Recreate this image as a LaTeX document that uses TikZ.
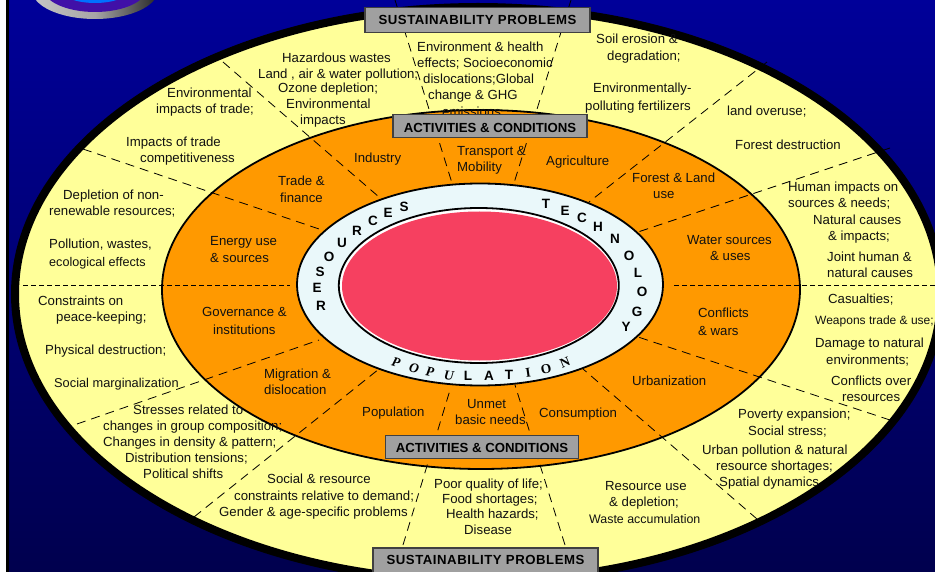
\documentclass[tikz,border=0pt]{standalone}
\usepackage{fontspec}
\setmainfont{Liberation Sans}
\newfontfamily\serifletters{Liberation Serif}
\definecolor{bgtop}{HTML}{000099}
\definecolor{bgmid}{HTML}{000090}
\definecolor{bgbot}{HTML}{00004E}
\definecolor{paleyellow}{HTML}{FFFF99}
\definecolor{ringorange}{HTML}{FF9900}
\definecolor{ringpale}{HTML}{EAF8FA}
\definecolor{corered}{HTML}{F64060}
\definecolor{labelgray}{HTML}{A0A0A0}
\definecolor{labeledge}{HTML}{404040}
\definecolor{txtblack}{HTML}{111111}
\definecolor{emblempurple}{HTML}{4010A8}
\definecolor{emblemblue}{HTML}{0070FF}
\newcommand{\myind}[1]{\hspace*{#1pt}}
\newcommand{\tightline}[2]{{\fontsize{#1}{16}\selectfont #2}}
\tikzset{
  lab/.style={inner sep=0pt, anchor=north west, align=left, text=txtblack,
     font=\fontsize{13.2}{16}\selectfont},
  banner/.style={draw=labeledge, line width=1.2pt, fill=labelgray, inner sep=0pt,
     font=\fontsize{13.2}{14}\selectfont\bfseries, text=black},
  divider/.style={draw=black, line width=0.8pt, dash pattern=on 9pt off 6pt},
  fineline/.style={draw=black, line width=0.9pt, dash pattern=on 5pt off 3pt},
  ringletter/.style={inner sep=0pt, font=\fontsize{13.5}{14}\selectfont\bfseries, text=black},
  popletter/.style={inner sep=0pt, font=\fontsize{13.5}{14}\selectfont\serifletters\bfseries, text=black},
}
\begin{document}
\begin{tikzpicture}[x=1pt,y=-1pt]
\useasboundingbox (0,0) rectangle (935,572);
\clip (0,0) rectangle (935,572);
% background
\shade[top color=bgtop, middle color=bgmid, bottom color=bgbot] (0,0) rectangle (935,572);
\fill[white] (0,0) rectangle (6,572);
\fill[black] (6,0) rectangle (8.5,572);
% emblem at the top left
\shade[left color=gray!45, right color=black!85, middle color=gray!70] (95,-10) ellipse [x radius=63pt, y radius=29pt];
\fill[emblempurple] (95,-12) ellipse [x radius=52pt, y radius=24pt];
\fill[emblemblue] (95,-12) ellipse [x radius=36pt, y radius=15pt];
% rings
\fill[paleyellow, draw=black, line width=8pt] (478,294) ellipse [x radius=463pt, y radius=287pt];
\fill[ringorange, draw=black, line width=1.8pt] (481,289.5) ellipse [x radius=319pt, y radius=179.5pt];
\fill[ringpale, draw=black, line width=1.8pt] (480,284.5) ellipse [x radius=183pt, y radius=101pt];
\fill[white, draw=black, line width=1.8pt] (478.8,285.5) ellipse [x radius=140pt, y radius=77.5pt];
\fill[corered] (479.5,286) ellipse [x radius=137.5pt, y radius=74.5pt];
% divider ends
\coordinate (d1a) at (23,285);   \coordinate (d1b) at (290,285);
\coordinate (d2a) at (935,285);  \coordinate (d2b) at (672,285);
\coordinate (d3a) at (223,62);   \coordinate (d3b) at (379,197);
\coordinate (d4a) at (83,149);   \coordinate (d4b) at (325,231);
\coordinate (d5a) at (395,0);    \coordinate (d5b) at (452,183);
\coordinate (d6a) at (571,0);    \coordinate (d6b) at (514,183);
\coordinate (d7a) at (767,62);   \coordinate (d7b) at (589,202);
\coordinate (d8a) at (890,148);  \coordinate (d8b) at (638,232);
\coordinate (d9a) at (77,424);   \coordinate (d9b) at (319,340);
\coordinate (d10a) at (194,517); \coordinate (d10b) at (379,369);
\coordinate (d11a) at (403,545); \coordinate (d11b) at (450,390);
\coordinate (d12a) at (565,545); \coordinate (d12b) at (515,385);
\coordinate (d13a) at (757,519); \coordinate (d13b) at (583,369);
\coordinate (d14a) at (890,420); \coordinate (d14b) at (638,337);
\draw[fineline] (d1a) -- (d1b);
\draw[fineline] (d2a) -- (d2b);
\foreach \n in {3,...,14} \draw[divider] (d\n a) -- (d\n b);
% outer band texts
\node[lab] (t01) at (258,53) {\myind{24}Hazardous wastes\\[-0.5pt]Land , air \& water pollution;\\[-2pt]\myind{20}Ozone depletion;\\\myind{28}Environmental\\\myind{42}impacts};
\node[lab] (t02) at (156,88) {\myind{11}Environmental\\impacts of trade;};
\node[lab] (t03) at (126,137) {Impacts of trade\\\myind{14}competitiveness};
\node[lab] (t04) at (49,190) {\myind{14}Depletion of non-\\renewable resources;};
\node[lab] (t05) at (49,239) {Pollution, wastes,\\[2pt]\tightline{12.6}{ecological effects}};
\node[lab] (t06) at (417,42) {Environment \& health\\effects; Socioeconomic\\\myind{6}dislocations;Global\\\myind{11}change \& GHG\\[1pt]\myind{25}emissions};
\node[lab] (t07) at (596,34) {Soil erosion \&\\[1pt]\myind{11}degradation;};
\node[lab] (t08) at (585,83) {\myind{8}Environmentally-\\[2pt]polluting fertilizers};
\node[lab] (t09) at (727,106) {land overuse;};
\node[lab] (t10) at (735,140) {Forest destruction};
\node[lab] (t11) at (788,182) {Human impacts on\\sources \& needs;\\[1pt]\myind{25}Natural causes\\\myind{40}\& impacts;\\[5pt]\myind{39}Joint human \&\\\myind{39}natural causes};
\node[lab] (t12) at (38,296) {Constraints on\\\myind{18}peace-keeping;};
\node[lab] (t13) at (45,345) {Physical destruction;};
\node[lab] (t14) at (54,378) {\tightline{12.8}{Social marginalization}};
\node[lab] (t15) at (103,405) {\myind{30}Stresses related to\\changes in group composition;\\Changes in density \& pattern;\\\myind{22}Distribution tensions;\\\myind{40}Political shifts};
\node[lab] (t16) at (219,474) {\myind{48}Social \& resource\\[1pt]\myind{15}constraints relative to demand;\\Gender \& age-specific problems};
\node[lab] (t17) at (434,479) {Poor quality of life;\\[-1pt]\myind{8}Food shortages;\\[-1pt]\myind{12}Health hazards;\\\myind{30}Disease};
\node[lab] (t18) at (589,481) {\myind{16}Resource use\\\myind{20}\& depletion;\\[1pt]\tightline{12.4}{Waste accumulation}};
\node[lab] (t19) at (702,409) {\myind{36}Poverty expansion;\\[1pt]\myind{46}Social stress;\\[3pt]Urban pollution \& natural\\\myind{14}resource shortages;\\\myind{17}Spatial dynamics};
\node[lab] (t20) at (815,294) {\myind{13}Casualties;\\[5pt]\tightline{12}{Weapons trade \&  use;}\\[7pt]Damage to natural\\[1pt]\myind{11}environments;\\[5pt]\myind{16}Conflicts over\\\myind{27}resources};
% orange band texts
\node[lab] (a01) at (354,153) {Industry};
\node[lab] (a02) at (278,176) {Trade \&\\[1pt]\myind{2}finance};
\node[lab] (a03) at (210,236) {Energy use\\[1pt]\& sources};
\node[lab] (a04) at (457,146) {Transport \&\\Mobility};
\node[lab] (a05) at (546,156) {Agriculture};
\node[lab] (a06) at (632,173) {Forest \& Land\\\myind{21}use};
\node[lab] (a07) at (687,235) {Water sources\\\myind{23}\& uses};
\node[lab] (a08) at (202,307) {Governance \&\\[2pt]\myind{11}institutions};
\node[lab] (a09) at (264,369) {Migration \&\\dislocation};
\node[lab] (a10) at (362,407) {Population};
\node[lab] (a11) at (455,399) {\myind{12}Unmet\\basic needs};
\node[lab] (a12) at (539,408) {Consumption};
\node[lab] (a13) at (632,376) {Urbanization};
\node[lab] (a14) at (698,308) {Conflicts\\[2pt]\& wars};
% banners
\node[banner, minimum width=225pt, minimum height=24.5pt] (b1) at (477.5,20) {\addfontfeature{LetterSpace=4}SUSTAINABILITY PROBLEMS};
\node[banner, minimum width=194pt, minimum height=22.5pt, text height=13.4pt, text depth=0pt] (b2) at (490,126) {ACTIVITIES \& CONDITIONS};
\node[banner, minimum width=193pt, minimum height=22.5pt, text height=11.4pt, text depth=0pt] (b3) at (482,447) {ACTIVITIES \& CONDITIONS};
\node[banner, minimum width=225pt, minimum height=30pt, text height=9.4pt, text depth=6pt] (b4) at (485.5,563) {\addfontfeature{LetterSpace=4}SUSTAINABILITY PROBLEMS};
% inner ring letters
\node[ringletter] (r1) at (321,306) {R};
\node[ringletter] (r2) at (317,288) {E};
\node[ringletter] (r3) at (320,272) {S};
\node[ringletter] (r4) at (329,257) {O};
\node[ringletter] (r5) at (342,243) {U};
\node[ringletter] (r6) at (357,231) {R};
\node[ringletter] (r7) at (373,221) {C};
\node[ringletter] (r8) at (388,213) {E};
\node[ringletter] (r9) at (404,207) {S};
\node[ringletter] (k1) at (546,204) {T};
\node[ringletter] (k2) at (565,211) {E};
\node[ringletter] (k3) at (582,218) {C};
\node[ringletter] (k4) at (598,227) {H};
\node[ringletter] (k5) at (615,239) {N};
\node[ringletter] (k6) at (629,256) {O};
\node[ringletter] (k7) at (638,273) {L};
\node[ringletter] (k8) at (642,292) {O};
\node[ringletter] (k9) at (637,312) {G};
\node[ringletter] (k10) at (626,327) {Y};
\node[popletter, rotate=-16] (p1) at (396,362) {\itshape P};
\node[popletter, rotate=-13] (p2) at (414,368) {\itshape O};
\node[popletter, rotate=-10] (p3) at (430,372) {\itshape P};
\node[popletter, rotate=-6] (p4) at (449,376) {\itshape U};
\node[ringletter] (p5) at (468,376) {L};
\node[ringletter] (p6) at (489,376) {A};
\node[ringletter] (p7) at (509,375) {T};
\node[popletter, rotate=8] (p8) at (528,373) {I};
\node[popletter, rotate=12] (p9) at (546,369) {O};
\node[popletter, rotate=22] (p10) at (565,363) {N};
\end{tikzpicture}
\end{document}
